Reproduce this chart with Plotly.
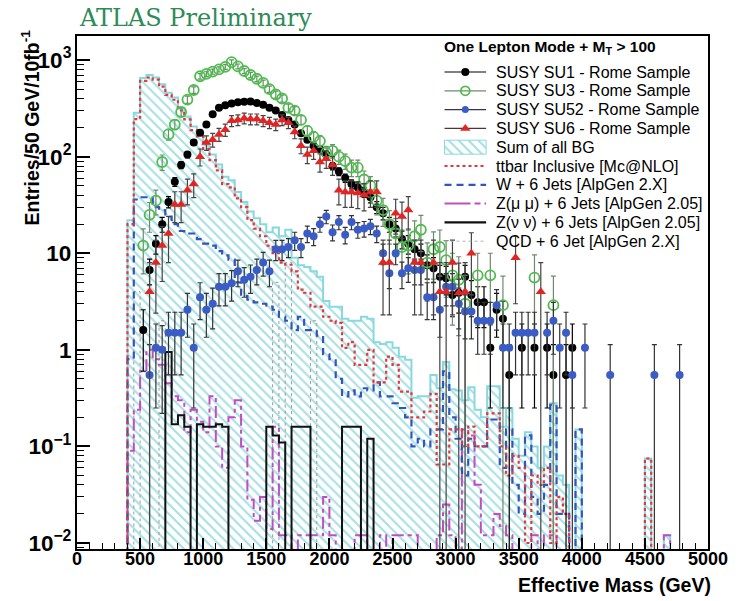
import plotly.graph_objects as go

# ---------------- data ----------------
BIN_START = 400      # GeV, lower edge of first background bin
BIN_WIDTH = 50       # GeV

bg_sum = [22, 285, 650, 700, 660, 560, 460, 410, 320, 260,
          205, 177, 133, 105, 83, 62, 57, 43, 34, 27,
          23, 20, 16.5, 18.5, 15, 17.5, 9, 7.5, 7.2, 6.5,
          5.7, 3.2, 2.8, 2.8, 2.1, 2.0, 2.0, 2.2, 2.1, 1.2,
          1.15, 1.2, 1.05, 0.85, 0.79, 0.32, 0.33, 0.33, 0.55, 0.4,
          0.75, 0.39, 0.38, 0.3, 0.41, 0.24, 0.2, 0.42, 0.42, 0.16,
          0.25, 0.12, 0.08, 0.14, 0.1, 0.06, 0.1, 0.28, 0.05, 0.04,
          0, 0.15, 0, 0, 0, 0, 0, 0, 0, 0,
          0, 0, 0.075, 0, 0, 0.012, 0, 0]

ttbar = [20, 245, 610, 660, 628, 530, 435, 388, 302, 243,
         188, 162, 120, 92, 72, 52, 48, 37, 30, 22,
         18, 15, 12, 10, 8, 7.6, 6.5, 4.2, 3.9, 2.8,
         2.8, 2.2, 2.0, 1.9, 1.05, 1.2, 0.7, 0.7, 1.0, 0.46,
         0.46, 0.85, 0.7, 0.37, 0.37, 0.2, 0.2, 0.23, 0.35, 0.065,
         0.065, 0.15, 0.15, 0.1, 0.16, 0.1, 0.1, 0.22, 0.22, 0.1,
         0.05, 0.08, 0.06, 0.01, 0.05, 0.04, 0.06, 0.01, 0.03, 0.02,
         0, 0, 0, 0, 0, 0, 0, 0, 0, 0,
         0, 0, 0.075, 0, 0, 0, 0, 0]

wjets = [0.8, 36, 38, 38, 30, 28, 24, 20, 17, 16,
         16, 14, 12.6, 12, 10.5, 9.5, 8.6, 5, 3.6, 3.3,
         3.1, 3.0, 2.8, 2.6, 2.2, 2.0, 1.6, 2.2, 1.6, 1.6,
         1.4, 0.9, 0.8, 0.5, 0.33, 0.38, 0.33, 0.4, 0.38, 0.46,
         0.33, 0.33, 0.28, 0.25, 0.2, 0.1, 0.12, 0.1, 0.15, 0.15,
         0.6, 0.2, 0.12, 0.05, 0.12, 0.1, 0.1, 0.19, 0.19, 0.06,
         0.15, 0.04, 0.02, 0.13, 0.03, 0.02, 0.04, 0.27, 0.02, 0.02,
         0, 0.15, 0, 0, 0, 0, 0, 0, 0, 0,
         0, 0, 0, 0, 0, 0, 0, 0]

zmumu = [0.09, 0.24, 0.6, 1.0, 0.8, 0.7, 0.45, 0.33, 0.3, 0.14,
         0.24, 0.18, 0.14, 0.33, 0.1, 0.06, 0.2, 0.3, 0.1, 0.028,
         0.017, 0.03, 0.014, 0.16, 0.012, 0.012, 0, 0.012, 0.012, 0.012,
         0.012, 0.03, 0.012, 0, 0, 0, 0.012, 0.012, 0, 0,
         0.012, 0, 0.012, 0.012, 0.012, 0.012, 0, 0, 0, 0.012,
         0.025, 0.012, 0, 0.15, 0.13, 0.04, 0.012, 0.012, 0.02, 0.015,
         0.012, 0, 0, 0, 0.012, 0, 0.012, 0.012, 0, 0,
         0, 0, 0, 0, 0, 0, 0, 0, 0, 0,
         0, 0, 0, 0, 0, 0.012, 0, 0]

znunu = [0, 0, 0, 0, 0, 0, 0.95, 0.17, 0.21, 0.16,
         0, 0.17, 0.16, 0.16, 0.17, 0.16, 0, 0, 0, 0,
         0, 0, 0.16, 0.13, 0.11, 0, 0.16, 0.16, 0.16, 0,
         0, 0, 0, 0, 0.16, 0.16, 0.16, 0, 0.12, 0,
         0, 0, 0, 0, 0, 0, 0, 0, 0, 0,
         0, 0, 0, 0, 0, 0, 0, 0, 0, 0,
         0, 0, 0, 0, 0, 0, 0, 0, 0, 0,
         0, 0, 0, 0, 0, 0, 0, 0, 0, 0,
         0, 0, 0, 0, 0, 0, 0, 0]

qcd = [0, 4.0, 0, 0, 0, 2.0, 0, 0, 0, 0,
       0, 0, 0, 0, 0, 0, 0, 0, 0, 0,
       0, 0, 0, 5.0, 0, 8.0, 0, 0, 0, 2.0,
       0, 0, 0, 0, 0, 0, 0, 0, 0, 0,
       0, 0, 0, 0, 0, 0, 0, 0, 0, 0,
       0, 0, 0, 0, 0, 0, 0, 0, 0, 0,
       0, 0, 0, 0, 0, 0, 0, 0, 0, 0,
       0, 0, 0, 0, 0, 0, 0, 0, 0, 0,
       0, 0, 0, 0, 0, 0, 0, 0]

su1_mass = [525, 575, 625, 675, 725, 775, 825, 875, 925, 975,
            1025, 1075, 1125, 1175, 1225, 1275, 1325, 1375, 1425, 1475,
            1525, 1575, 1625, 1675, 1725, 1775, 1825, 1875, 1925, 1975,
            2025, 2075, 2125, 2175, 2225, 2275, 2325, 2375, 2425, 2475,
            2525, 2575, 2625, 2675, 2725, 2775, 2825, 2875, 2925, 2975,
            3025, 3075, 3125, 3175, 3225, 3275, 3325, 3375, 3425, 3525,
            3625, 3725, 3775, 3875, 3925]
su1_val = [1.6, 6.7, 12.5, 20, 34, 55, 82, 105, 140, 177,
           215, 275, 320, 340, 355, 365, 370, 372, 360, 345,
           320, 300, 270, 240, 215, 175, 150, 130, 120, 105,
           80, 70, 60, 52, 48, 43, 38, 30, 26, 20,
           18, 14, 12.5, 11, 10, 7.5, 7.0, 5.7, 5.5, 3.7,
           3.9, 5.7, 3.7, 3.1, 3.1, 1.05, 2.6, 2.1, 0.55, 1.05,
           1.05, 1.05, 0.55, 0.55, 1.05]
su1_err = [1.0, 2.0, 2.7, 3.5, 4.5, 5.7, 7, 7.9, 9.2, 10.3,
           11.4, 12.8, 13.9, 14.3, 14.6, 14.8, 14.9, 14.9, 14.7, 14.4,
           13.9, 13.4, 12.7, 12, 11.4, 10.2, 9.5, 8.8, 8.5, 7.9,
           6.9, 6.5, 6, 5.6, 5.4, 5.1, 4.8, 4.2, 3.9, 3.5,
           3.3, 2.9, 2.7, 2.6, 2.4, 2.1, 2.0, 1.8, 1.8, 1.5,
           1.5, 1.8, 1.5, 1.4, 1.4, 0.8, 1.25, 1.1, 0.58, 0.8,
           0.8, 0.8, 0.58, 0.58, 0.8]

su3_mass = [525, 575, 625, 675, 725, 775, 825, 875, 925, 975,
            1025, 1075, 1125, 1175, 1225, 1275, 1325, 1375, 1425, 1475,
            1525, 1575, 1625, 1675, 1725, 1775, 1825, 1875, 1925, 1975,
            2025, 2075, 2125, 2175, 2225, 2275, 2325, 2375, 2425, 2475,
            2525, 2575, 2625, 2675, 2725, 2775, 2825, 2875, 2925, 2975,
            3025, 3075, 3175, 3275, 3375, 3625, 3775]
su3_val = [12, 25, 35, 88, 170, 215, 290, 390, 490, 680,
           720, 760, 800, 850, 950, 860, 770, 700, 640, 580,
           500, 440, 400, 320, 300, 240, 185, 160, 145, 110,
           115, 100, 90, 77, 77, 58, 50, 35, 28, 20,
           16, 11.6, 12, 15, 17.5, 8, 11, 11.6, 8.5, 5.9,
           5.3, 3.0, 5.9, 5.9, 2.9, 5.6, 2.9]
su3_err = [5.9, 8.5, 10, 16, 22, 25, 29, 34, 38, 44,
           46, 47, 48, 50, 52, 50, 47, 45, 43, 41,
           38, 36, 34, 30, 29, 26, 23, 21.5, 20.5, 17.9,
           18.3, 17, 16.2, 15, 15, 13, 12, 10, 9, 7.6,
           6.8, 5.8, 5.9, 6.6, 7.1, 4.8, 5.6, 5.8, 5.0, 4.1,
           3.9, 2.9, 4.1, 4.1, 2.9, 4.0, 2.9]

su52_mass = [575, 625, 675, 725, 775, 825, 875, 925, 975, 1025,
             1075, 1125, 1175, 1225, 1275, 1325, 1375, 1425, 1475, 1525,
             1575, 1625, 1675, 1725, 1775, 1825, 1875, 1925, 1975, 2025,
             2075, 2125, 2175, 2225, 2275, 2325, 2375, 2425, 2475, 2525,
             2575, 2625, 2675, 2725, 2775, 2825, 2875, 2925, 2975, 3025,
             3075, 3125, 3175, 3225, 3275, 3325, 3375, 3425, 3475, 3525,
             3575, 3625, 3725, 3775, 3825, 3875, 3925, 4025, 4225, 4575,
             4775]
su52_val = [0.55, 1.05, 1.0, 1.5, 1.5, 1.5, 2.6, 1.05, 3.5, 2.6,
            3.0, 4.5, 4.5, 4.9, 6.5, 5.3, 5.7, 6.7, 8, 6.5,
            11, 11, 11.6, 13.6, 11.6, 16, 15, 20, 24, 16.5,
            21, 15.5, 21, 17.5, 18, 19, 16, 10, 6.2, 10,
            6.2, 7, 6.7, 6.7, 3.5, 3.5, 2.6, 4.5, 4.5, 3.0,
            2.5, 2.5, 2.0, 2.0, 2.0, 2.9, 1.05, 1.05, 1.5, 1.5,
            1.5, 1.5, 1.5, 2.0, 1.05, 1.5, 0.55, 1.05, 0.55, 0.55,
            0.55]
su52_err = [0.58, 0.8, 0.78, 0.95, 0.95, 0.95, 1.25, 0.8, 1.45, 1.25,
            1.35, 1.65, 1.65, 1.7, 2.0, 1.8, 1.85, 2.0, 2.2, 2.0,
            2.6, 2.6, 2.6, 2.9, 2.6, 3.1, 3.0, 3.5, 3.8, 3.1,
            3.5, 3.0, 3.5, 3.2, 3.3, 3.4, 3.1, 2.4, 1.9, 2.4,
            1.9, 2.0, 2.0, 2.0, 1.45, 1.45, 1.25, 1.65, 1.65, 1.35,
            1.2, 1.2, 1.1, 1.1, 1.1, 1.3, 0.8, 0.8, 0.95, 0.95,
            0.95, 0.95, 0.95, 1.1, 0.8, 0.95, 0.58, 0.8, 0.58, 0.58,
            0.58]

su6_mass = [575, 625, 675, 725, 775, 825, 875, 925, 975, 1025,
            1075, 1125, 1175, 1225, 1275, 1325, 1375, 1425, 1475, 1525,
            1575, 1625, 1675, 1725, 1775, 1825, 1875, 1925, 1975, 2025,
            2075, 2125, 2175, 2225, 2275, 2325, 2375, 2425, 2475, 2525,
            2575, 2625, 2675, 2725, 2825, 2875, 2925, 2975, 3025, 3075,
            3125, 3475, 3675]
su6_val = [4.0, 8, 12, 16, 32, 32, 45, 52, 100, 140,
           150, 170, 190, 235, 240, 250, 245, 245, 235, 225,
           215, 240, 225, 180, 130, 105, 115, 88, 95, 82,
           45, 43, 43, 42, 40, 43, 43, 8, 8, 26,
           24, 28, 8, 8, 8, 4, 4, 8, 3.9, 4,
           10, 9, 4]
su6_err = [4.0, 5.6, 6.9, 8, 11.3, 11.3, 13.4, 14.4, 20, 23.7,
           24.5, 26, 27.6, 30.7, 31, 31.6, 31.3, 31.3, 30.7, 30,
           29.3, 31, 30, 26.8, 22.8, 20.5, 21.4, 18.8, 19.5, 18.1,
           13.4, 13.1, 13.1, 13, 12.6, 13.1, 13.1, 5.7, 5.7, 10.2,
           9.8, 10.6, 5.7, 5.7, 5.7, 4.0, 4.0, 5.7, 4.0, 4.0,
           6.3, 6.0, 4.0]

legend_header = "One Lepton Mode + M<sub>T</sub> > 100"
legend_labels = ["SUSY SU1 - Rome Sample", "SUSY SU3 - Rome Sample",
                 "SUSY SU52 - Rome Sample", "SUSY SU6 - Rome Sample",
                 "Sum of all BG", "ttbar Inclusive [Mc@NLO]",
                 "W + 6 Jets [AlpGen 2.X]", "Z(\u03bc \u03bc) + 6 Jets [AlpGen 2.05]",
                 "Z(\u03bd \u03bd) + 6 Jets [AlpGen 2.05]", "QCD + 6 Jet [AlpGen 2.X]"]

# ---------------- layout geometry (pixels) ----------------
W, H = 740, 601
L, R, T, B = 77, 714, 36, 549
FLOOR = 1e-4
FONT = "Liberation Sans, Arial, sans-serif"

def px(x):
    return (x - L) / (R - L)

def py(y):
    return (B - y) / (B - T)

def step(vals):
    edges = [BIN_START + BIN_WIDTH * i for i in range(len(vals) + 1)]
    xs, ys = [edges[0]], [FLOOR]
    for i, v in enumerate(vals):
        y = v if v > 0 else FLOOR
        xs += [edges[i], edges[i + 1]]
        ys += [y, y]
    xs.append(edges[-1])
    ys.append(FLOOR)
    return xs, ys

HATCH = dict(shape="\\", fgcolor="#4cc2c8", bgcolor="rgba(0,0,0,0)", size=7, solidity=0.3)

fig = go.Figure()

# Sum of all BG (hatched)
xs, ys = step(bg_sum)
fig.add_trace(go.Scatter(x=xs, y=ys, mode="lines", fill="toself",
                         fillcolor="rgba(0,0,0,0)", fillpattern=HATCH,
                         line=dict(color="#88d9df", width=2), hoverinfo="skip"))

styles = [
    (qcd, dict(color="#9a9a9a", width=1, dash="dot")),
    (zmumu, dict(color="#c24cc2", width=2, dash="12px,4px,4px,4px")),
    (wjets, dict(color="#3353bd", width=2.2, dash="7px,5px")),
    (ttbar, dict(color="#e5363b", width=2.2, dash="3px,3px")),
    (znunu, dict(color="#111111", width=2)),
]
for vals, ln in styles:
    xs, ys = step(vals)
    fig.add_trace(go.Scatter(x=xs, y=ys, mode="lines", line=ln, hoverinfo="skip"))

def sig(mass, val, err, marker, ecolor):
    fig.add_trace(go.Scatter(x=mass, y=val, mode="markers", marker=marker,
                             error_y=dict(type="data", array=err, color=ecolor,
                                          thickness=1.2, width=2.5),
                             hoverinfo="skip"))

sig(su1_mass, su1_val, su1_err, dict(symbol="circle", size=8, color="#000000"), "#000000")
sig(su3_mass, su3_val, su3_err,
    dict(symbol="circle-open", size=10, color="#4dbd4d", line=dict(width=1.8, color="#4dbd4d")),
    "#6f8a6f")
sig(su52_mass, su52_val, su52_err, dict(symbol="circle", size=8, color="#3a5cc4"), "#333333")
sig(su6_mass, su6_val, su6_err, dict(symbol="triangle-up", size=9, color="#e02525"), "#444444")

# ---------------- custom legend on an overlay pixel axis ----------------
rows = [72, 90.8, 109.6, 128.4, 147.2, 166, 184.8, 203.6, 222.4, 241.2]
SX0, SX1, SXC, TX = 448, 490, 469, 498

def leg_line(r, ln):
    fig.add_trace(go.Scatter(x=[SX0, SX1], y=[r, r], mode="lines", line=ln,
                             xaxis="x2", yaxis="y2", hoverinfo="skip"))

def leg_marker(r, mk):
    fig.add_trace(go.Scatter(x=[SXC], y=[r], mode="markers", marker=mk,
                             xaxis="x2", yaxis="y2", hoverinfo="skip"))

leg_line(rows[0], dict(color="#000000", width=1.2))
leg_marker(rows[0], dict(symbol="circle", size=8, color="#000000"))
leg_line(rows[1], dict(color="#6f8a6f", width=1.2))
leg_marker(rows[1], dict(symbol="circle-open", size=9, color="#4dbd4d", line=dict(width=1.8, color="#4dbd4d")))
leg_line(rows[2], dict(color="#333355", width=1.2))
leg_marker(rows[2], dict(symbol="circle", size=7, color="#3a5cc4"))
leg_line(rows[3], dict(color="#553333", width=1.2))
leg_marker(rows[3], dict(symbol="triangle-up", size=9, color="#e02525"))
r = rows[4]
fig.add_trace(go.Scatter(x=[SX0, SX1, SX1, SX0, SX0], y=[r - 7, r - 7, r + 7, r + 7, r - 7],
                         mode="lines", fill="toself", fillcolor="rgba(0,0,0,0)",
                         fillpattern=HATCH, line=dict(color="#88d9df", width=1),
                         xaxis="x2", yaxis="y2", hoverinfo="skip"))
leg_line(rows[5], dict(color="#e5363b", width=2.2, dash="3px,3px"))
leg_line(rows[6], dict(color="#3353bd", width=2.2, dash="7px,5px"))
leg_line(rows[7], dict(color="#c24cc2", width=2, dash="26px,4px,6px,4px"))
leg_line(rows[8], dict(color="#111111", width=2.2))
leg_line(rows[9], dict(color="#b0b0b0", width=1, dash="dot"))

annotations = [
    dict(x=445, y=47, xref="x2", yref="y2", text=legend_header, showarrow=False,
         xanchor="left", yanchor="middle",
         font=dict(family=FONT, size=15.5, color="#000", weight="bold")),
]
for r, lab in zip(rows, legend_labels):
    annotations.append(dict(x=TX, y=r, xref="x2", yref="y2", text=lab, showarrow=False,
                            xanchor="left", yanchor="middle",
                            font=dict(family=FONT, size=16, color="#000")))

annotations += [
    dict(x=px(77), y=py(18), xref="paper", yref="paper", text="ATLAS Preliminary",
         showarrow=False, xanchor="left", yanchor="middle",
         font=dict(family="DejaVu Serif, serif", size=24, color="#2e8b57")),
    dict(x=px(719), y=py(585), xref="paper", yref="paper", text="Effective Mass (GeV)",
         showarrow=False, xanchor="right", yanchor="middle",
         font=dict(family=FONT, size=19.5, color="#000", weight="bold")),
    dict(x=px(30), y=py(27), xref="paper", yref="paper",
         text="Entries/50 GeV/10fb<sup>-1</sup>", textangle=-90,
         showarrow=False, xanchor="center", yanchor="top",
         font=dict(family=FONT, size=19.5, color="#000", weight="bold")),
]

tickfont = dict(family=FONT, size=18, color="#000", weight="bold")

fig.update_layout(
    width=W, height=H,
    margin=dict(l=L, r=W - R, t=T, b=H - B),
    paper_bgcolor="white", plot_bgcolor="white",
    showlegend=False,
    annotations=annotations,
    xaxis=dict(range=[0, 5000], dtick=500, tick0=0, ticks="inside", ticklen=11,
               tickwidth=1.5, tickcolor="#000", showline=True, linecolor="#000",
               linewidth=2, mirror=True, showgrid=False, zeroline=False,
               tickfont=tickfont, ticklabelstandoff=-8,
               minor=dict(dtick=100, ticks="inside", ticklen=6, tickwidth=1.2, tickcolor="#000")),
    yaxis=dict(type="log", range=[-2.062, 3.249], dtick=1, exponentformat="power",
               ticks="inside", ticklen=13, tickwidth=1.5, tickcolor="#000",
               showline=True, linecolor="#000", linewidth=2, mirror=True,
               showgrid=False, zeroline=False, tickfont=tickfont, ticklabelstandoff=0,
               minor=dict(dtick="D1", ticks="inside", ticklen=7, tickwidth=1.2, tickcolor="#000")),
    xaxis2=dict(overlaying="x", range=[L, R], visible=False, autorange=False, fixedrange=True),
    yaxis2=dict(overlaying="y", range=[B, T], visible=False, autorange=False, fixedrange=True),
)

fig.write_html("out.html")
